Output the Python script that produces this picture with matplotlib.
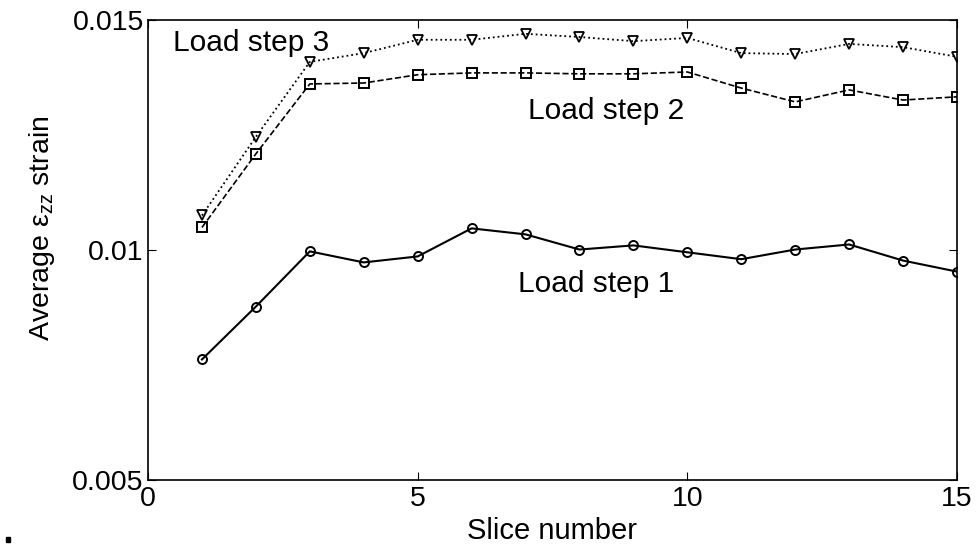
import matplotlib
matplotlib.use("Agg")
import matplotlib.pyplot as plt
from matplotlib.patches import Rectangle

plt.rcParams['font.family'] = ['Liberation Sans', 'DejaVu Sans']
plt.rcParams['mathtext.fontset'] = 'custom'
plt.rcParams['mathtext.rm'] = 'Liberation Sans'
plt.rcParams['mathtext.it'] = 'Liberation Sans'

# slice numbers and average strain per load step
slices = list(range(1, 16))
step1 = [0.00762, 0.00877, 0.00997, 0.00973, 0.00986, 0.01047, 0.01034, 0.01001,
         0.01010, 0.00995, 0.00980, 0.01001, 0.01012, 0.00977, 0.00953]
step2 = [0.01049, 0.01209, 0.01361, 0.01363, 0.01381, 0.01385, 0.01385, 0.01383,
         0.01383, 0.01387, 0.01352, 0.01322, 0.01348, 0.01326, 0.01333]
step3 = [0.01075, 0.01246, 0.01409, 0.01428, 0.01457, 0.01457, 0.01470, 0.01463,
         0.01454, 0.01461, 0.01428, 0.01426, 0.01448, 0.01441, 0.01420]

xticks = [0, 5, 10, 15]
yticks = [0.005, 0.01, 0.015]
yticklabels = ['0.005', '0.01', '0.015']

fig = plt.figure(figsize=(9.79, 5.54), dpi=100)
ax = fig.add_axes([0.1512, 0.1336, 0.8263, 0.8303])

ax.plot(slices, step1, '-', color='black', lw=1.5, marker='o', ms=6.5,
        mfc='none', mec='black', mew=1.4)
ax.plot(slices, step2, '--', color='black', lw=1.2, marker='s', ms=6.5,
        mfc='none', mec='black', mew=1.4)
ax.plot(slices, step3, ':', color='black', lw=1.3, marker='v', ms=7.5,
        mfc='none', mec='black', mew=1.3)

# curve labels (baseline positions)
ax.text(0.46, 0.01433, 'Load step 3', fontsize=21.5, va='baseline', ha='left')
ax.text(7.05, 0.01285, 'Load step 2', fontsize=21.5, va='baseline', ha='left')
ax.text(6.86, 0.00908, 'Load step 1', fontsize=21.5, va='baseline', ha='left')

ax.set_xlim(0, 15)
ax.set_ylim(0.005, 0.015)
ax.set_xticks(xticks)
ax.set_yticks(yticks)
ax.set_yticklabels(yticklabels)
ax.tick_params(direction='in', top=True, right=True, length=6, labelsize=20.5)
ax.tick_params(axis='x', pad=4)
ax.tick_params(axis='y', pad=3)
for s in ax.spines.values():
    s.set_linewidth(1.2)

ax.set_xlabel('Slice number', fontsize=21, labelpad=4)
ax.set_ylabel(r'Average ε$_{zz}$ strain', fontsize=20.5)
ax.yaxis.set_label_coords(-0.113, 0.547)

# small stray square at the bottom left
fig.patches.append(Rectangle((6 / 979, 12 / 554), 4 / 979, 5 / 554,
                             transform=fig.transFigure, color='black'))

fig.savefig('out.png', dpi=100)
